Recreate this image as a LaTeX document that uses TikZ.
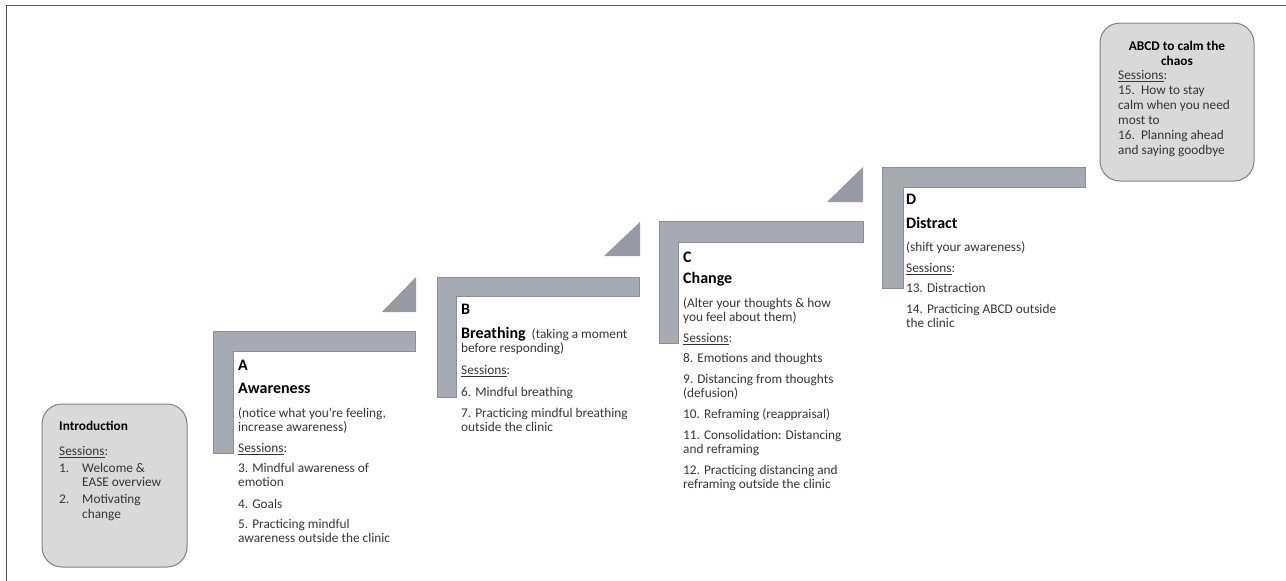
\documentclass[tikz,border=0pt]{standalone}
\usepackage{fontspec}
\setmainfont{Carlito}
\definecolor{barfill}{HTML}{A6AAB3}
\definecolor{baredge}{HTML}{8A8E98}
\definecolor{trifill}{HTML}{969AA4}
\definecolor{boxfill}{HTML}{D9D9D9}
\definecolor{boxedge}{HTML}{808080}
\definecolor{txt}{HTML}{353535}
\definecolor{framecol}{HTML}{555555}
\tikzset{
  stepbar/.style={fill=barfill, draw=baredge, line width=0.6pt},
  steptri/.style={fill=trifill, draw=none},
  sessbox/.style={draw=boxedge, fill=boxfill, rounded corners=20pt, line width=1pt},
  steptext/.style={anchor=north west, inner sep=0pt, align=left, text=txt,
    font=\fontsize{13.3}{14}\selectfont},
  boxtext/.style={anchor=north west, inner sep=0pt, align=left, text=txt,
    font=\fontsize{13.3}{15}\selectfont},
}
\newcommand{\hd}[1]{{\fontsize{16}{14}\selectfont\bfseries\color{black}#1}}
\newcommand{\hdsmall}[1]{{\bfseries\color{black}#1}}
\newcommand{\sess}{\underline{Sessions}:}
\begin{document}
\begin{tikzpicture}[x=1pt,y=-1pt]
\useasboundingbox (0,0) rectangle (1286,581);
% frame
\draw[framecol, line width=1.5pt] (6.5,581) -- (6.5,5.5) -- (1286,5.5);

% introduction box
\draw[sessbox] (42,404) rectangle (187,567);
\node[boxtext] (intro) at (59,421) {\hdsmall{Introduction}\\[10pt]
\sess\\[2pt]
\makebox[23pt][l]{1.}Welcome \&\\[-1pt]
\hspace*{23pt}EASE overview\\[2pt]
\makebox[23pt][l]{2.}Motivating\\
\hspace*{23pt}change};

% step A
\draw[stepbar] (213,331) -- (415,331) -- (415,351) -- (233,351) -- (233,453) -- (213,453) -- cycle;
\fill[steptri] (382,312) -- (416,312) -- (416,277) -- cycle;
\node[steptext] (textA) at (238,360) {\hd{A}\\[9pt]
\hd{Awareness}\\[10pt]
(notice what you’re feeling,\\
increase awareness)\\[7pt]
\sess\\[6pt]
3. Mindful awareness of\\
emotion\\[8pt]
4. Goals\\[6pt]
5. Practicing mindful\\
awareness outside the clinic};

% step B
\draw[stepbar] (437,277) -- (639,277) -- (639,296) -- (456,296) -- (456,397) -- (437,397) -- cycle;
\fill[steptri] (604,256) -- (640,256) -- (640,222) -- cycle;
\node[steptext] (textB) at (461,304) {\hd{B}\\[10pt]
\hd{Breathing}\ \ (taking a moment\\
before responding)\\[8pt]
\sess\\[8pt]
6. Mindful breathing\\[7pt]
7. Practicing mindful breathing\\
outside the clinic};

% step C
\draw[stepbar] (659,221) -- (863,221) -- (863,242) -- (678,242) -- (678,343) -- (659,343) -- cycle;
\fill[steptri] (827,202) -- (863,202) -- (863,167) -- cycle;
\node[steptext] (textC) at (683,252) {\hd{C}\\[7pt]
\hd{Change}\\[10pt]
(Alter your thoughts \& how\\
you feel about them)\\[7pt]
\sess\\[6pt]
8. Emotions and thoughts\\[7pt]
9. Distancing from thoughts\\
(defusion)\\[7pt]
10. Reframing (reappraisal)\\[7pt]
11. Consolidation: Distancing\\
and reframing\\[7pt]
12. Practicing distancing and\\
reframing outside the clinic};

% step D
\draw[stepbar] (882,167) -- (1085,167) -- (1085,187) -- (903,187) -- (903,288) -- (882,288) -- cycle;
\node[steptext] (textD) at (906,194) {\hd{D}\\[10pt]
\hd{Distract}\\[9pt]
(shift your awareness)\\[7pt]
\sess\\[6pt]
13. Distraction\\[7pt]
14. Practicing ABCD outside\\
the clinic};

% ABCD box
\draw[sessbox] (1100,23) rectangle (1254,181);
\node[anchor=north, inner sep=0pt, align=center, font=\fontsize{13.3}{15}\selectfont\bfseries] (abcdtitle) at (1177,40.5) {ABCD to calm the\\ chaos};
\node[boxtext] (abcdlist) at (1118,70.5) {\sess\\
15.~~How to stay\\
calm when you need\\
most to\\
16.~~Planning ahead\\
and saying goodbye};
\end{tikzpicture}
\end{document}
